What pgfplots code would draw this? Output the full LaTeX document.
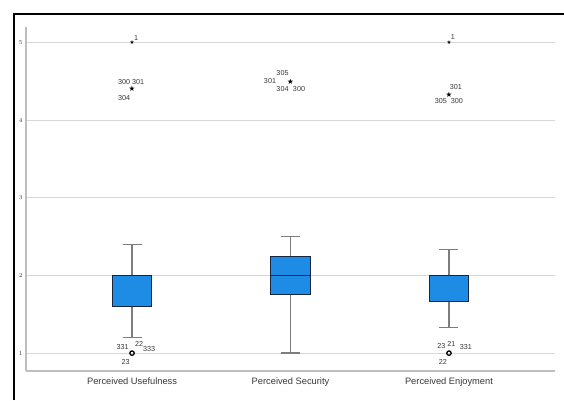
\documentclass[border=0pt]{standalone}
\usepackage{pgfplots}
\pgfplotsset{compat=1.18}
\usepgfplotslibrary{statistics}
\usepackage{fontspec}
\setmainfont{Liberation Sans}
\newfontfamily\symfont{DejaVu Sans}
\definecolor{boxblue}{RGB}{30,140,228}
\definecolor{boxdark}{RGB}{22,38,62}
\definecolor{whisk}{RGB}{125,125,125}
\definecolor{gridc}{RGB}{215,215,215}
\definecolor{axc}{RGB}{190,190,190}
\newcommand{\lbl}[5]{\node[font=\fontsize{7.2}{7.2}\selectfont, text=black!78, inner sep=0pt, xshift=#3pt, yshift=#4pt] at (axis cs:#1,#2) {#5};}
\begin{document}
\begin{tikzpicture}[x=1pt,y=1pt]
\fill[white] (0,0) rectangle (564,400);
\useasboundingbox (0,0) rectangle (564,400);
\draw[black, line width=2pt] (14,0) -- (14,386) -- (564,386);
\begin{axis}[
  at={(26pt,29pt)}, anchor=south west,
  width=529pt, height=344pt, scale only axis,
  xmin=-0.669, xmax=2.669, ymin=0.77, ymax=5.2,
  xtick={0,1,2},
  xticklabels={Perceived Usefulness, Perceived Security, Perceived Enjoyment},
  ytick={1,2,3,4,5},
  major tick length=0pt,
  ymajorgrids, grid style={draw=gridc, line width=0.9pt},
  axis lines*=left,
  axis line style={draw=axc, line width=1.3pt},
  xticklabel style={font=\fontsize{9.3}{10}\selectfont, text=black!78, yshift=-3pt},
  yticklabel style={font=\fontsize{6.5}{7}\selectfont, text=black!78, xshift=0pt},
  clip=false,
  boxplot/draw direction=y,
  boxplot/every box/.style={fill=boxblue, draw=boxdark, line width=0.9pt},
  boxplot/every whisker/.style={draw=whisk, line width=1.5pt},
  boxplot/every median/.style={draw=boxdark, line width=1.6pt},
]
\addplot[whisk, line width=1.5pt, boxplot prepared={draw position=0, lower whisker=1.2, lower quartile=1.6, median=2.0, upper quartile=2.0, upper whisker=2.4, box extend=0.25, whisker extend=0.12}] coordinates {};
\addplot[whisk, line width=1.5pt, boxplot prepared={draw position=1, lower whisker=1.0, lower quartile=1.75, median=2.0, upper quartile=2.25, upper whisker=2.5, box extend=0.25, whisker extend=0.12}] coordinates {};
\addplot[whisk, line width=1.5pt, boxplot prepared={draw position=2, lower whisker=1.333, lower quartile=1.667, median=1.667, upper quartile=2.0, upper whisker=2.333, box extend=0.25, whisker extend=0.12}] coordinates {};
\addplot[only marks, mark=o, mark size=2.2pt, line width=1.3pt, black] coordinates {(0,1) (2,1)};
\addplot[only marks, mark=text, text mark={\fontsize{7.5}{7.5}\symfont ★}, black] coordinates {(0,4.4) (1,4.5) (2,4.333)};
\addplot[only marks, mark=text, text mark={\fontsize{5.5}{5.5}\symfont ★}, black] coordinates {(0,5) (2,5)};
% Usefulness labels
\lbl{0}{5}{4}{5}{1}
\lbl{0}{4.4}{-8}{7}{300}
\lbl{0}{4.4}{6}{7}{301}
\lbl{0}{4.4}{-8}{-9}{304}
\lbl{0}{1}{-9.5}{6}{331}
\lbl{0}{1}{7}{9}{22}
\lbl{0}{1}{17}{4}{333}
\lbl{0}{1}{-6.5}{-9}{23}
% Security labels
\lbl{1}{4.5}{-8}{8}{305}
\lbl{1}{4.5}{-20.5}{0}{301}
\lbl{1}{4.5}{-8}{-8}{304}
\lbl{1}{4.5}{8.5}{-8}{300}
% Enjoyment labels
\lbl{2}{5}{4}{6}{1}
\lbl{2}{4.333}{7}{7}{301}
\lbl{2}{4.333}{-8}{-7}{305}
\lbl{2}{4.333}{8}{-7}{300}
\lbl{2}{1}{-7.5}{7}{23}
\lbl{2}{1}{2.5}{9}{21}
\lbl{2}{1}{17}{6}{331}
\lbl{2}{1}{-6}{-9}{22}
\end{axis}
\end{tikzpicture}
\end{document}
